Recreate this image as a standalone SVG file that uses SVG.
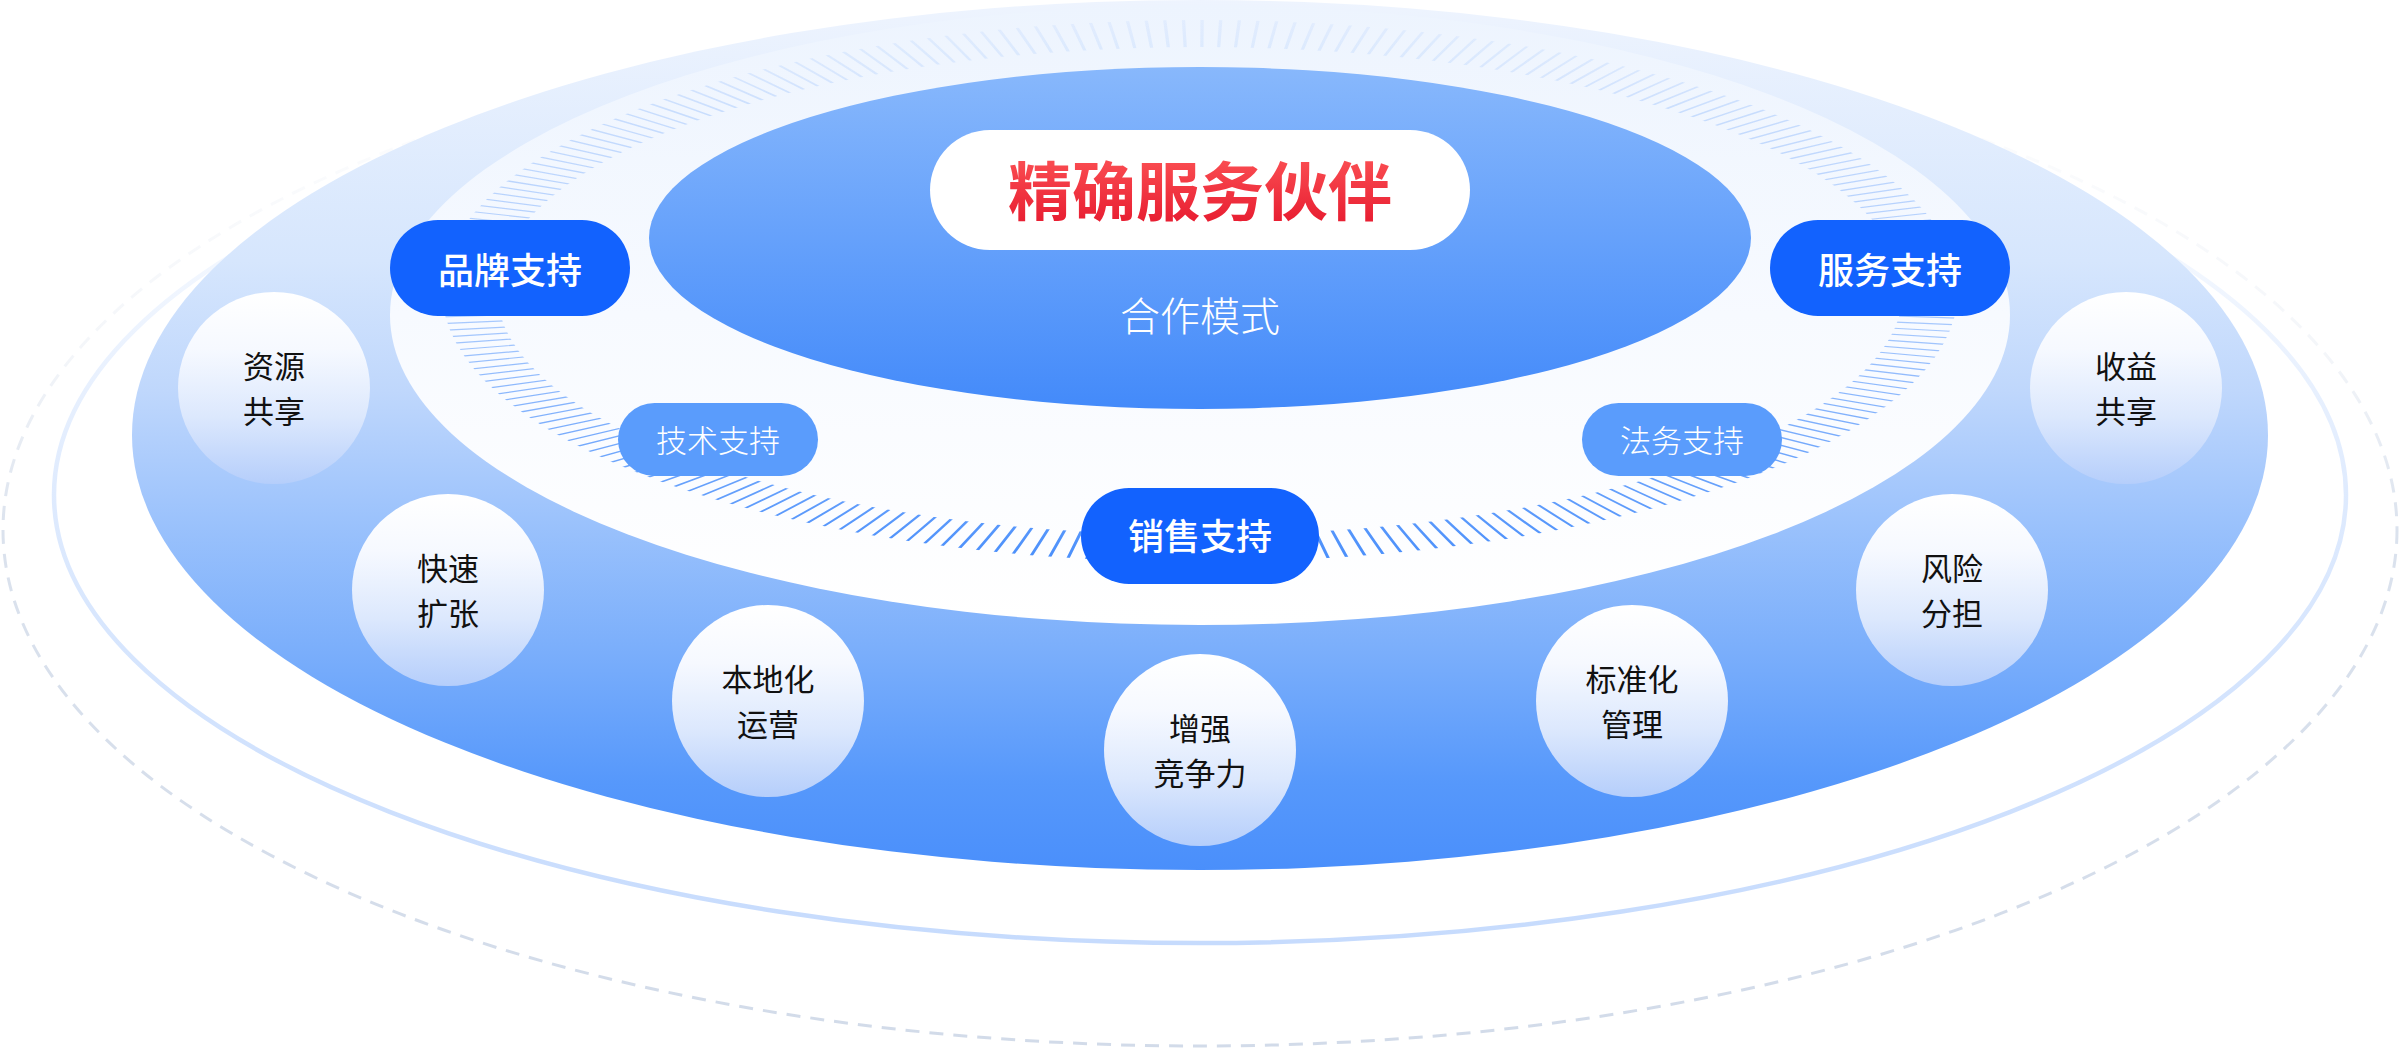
<svg xmlns="http://www.w3.org/2000/svg" width="2400" height="1051" viewBox="0 0 2400 1051">
  <defs>
    <style>
      .cjk { font-family: "Noto Sans CJK SC", "Noto Sans", sans-serif; text-anchor: middle; }
      .pillStrong { fill: #1262fe; }
      .pillSoft { fill: #5a9cfc; }
      .pillText { fill: #ffffff; font-size: 36px; font-weight: 500; }
      .softText { fill: #ffffff; font-size: 31px; font-weight: 300; }
      .circ { fill: url(#gCircle); }
      .circText { fill: #111111; font-size: 31px; font-weight: 400; }
    </style>
    <linearGradient id="gDash" gradientUnits="userSpaceOnUse" x1="0" y1="14" x2="0" y2="1046">
      <stop offset="0" stop-color="#d2dbe9" stop-opacity="0"/>
      <stop offset="0.33" stop-color="#d2dbe9" stop-opacity="0.25"/>
      <stop offset="0.5" stop-color="#d2dbe9" stop-opacity="0.8"/>
      <stop offset="1" stop-color="#d2dbe9" stop-opacity="1"/>
    </linearGradient>
    <linearGradient id="gRingB" gradientUnits="userSpaceOnUse" x1="0" y1="47" x2="0" y2="943">
      <stop offset="0" stop-color="#c9ddfd" stop-opacity="0"/>
      <stop offset="0.25" stop-color="#c9ddfd" stop-opacity="0.25"/>
      <stop offset="0.5" stop-color="#c9ddfd" stop-opacity="0.6"/>
      <stop offset="1" stop-color="#c6dbfd" stop-opacity="1"/>
    </linearGradient>
    <linearGradient id="gBig" x1="0" y1="0" x2="0" y2="1">
      <stop offset="0" stop-color="#eef4fe"/>
      <stop offset="0.3" stop-color="#d6e6fd"/>
      <stop offset="0.45" stop-color="#bfd7fc"/>
      <stop offset="0.6" stop-color="#9bc2fc"/>
      <stop offset="0.75" stop-color="#7aaefb"/>
      <stop offset="0.9" stop-color="#5698fb"/>
      <stop offset="1" stop-color="#4a8ffb"/>
    </linearGradient>
    <linearGradient id="gInner" x1="0" y1="0" x2="0" y2="1">
      <stop offset="0" stop-color="#edf4fe"/>
      <stop offset="0.5" stop-color="#f7faff"/>
      <stop offset="1" stop-color="#ffffff"/>
    </linearGradient>
    <linearGradient id="gCore" x1="0" y1="0" x2="0" y2="1">
      <stop offset="0" stop-color="#88b8fc"/>
      <stop offset="1" stop-color="#438afa"/>
    </linearGradient>
    <linearGradient id="gTick" gradientUnits="userSpaceOnUse" x1="0" y1="-104" x2="0" y2="104">
      <stop offset="0" stop-color="#4a8ffb" stop-opacity="0.07"/>
      <stop offset="0.1" stop-color="#4a8ffb" stop-opacity="0.14"/>
      <stop offset="0.17" stop-color="#4a8ffb" stop-opacity="0.24"/>
      <stop offset="0.33" stop-color="#4a8ffb" stop-opacity="0.35"/>
      <stop offset="0.57" stop-color="#4a8ffb" stop-opacity="0.47"/>
      <stop offset="0.8" stop-color="#4a8ffb" stop-opacity="0.78"/>
      <stop offset="1" stop-color="#4a8ffb" stop-opacity="1"/>
    </linearGradient>
    <linearGradient id="gCircle" x1="0" y1="0" x2="0" y2="1">
      <stop offset="0" stop-color="#ffffff"/>
      <stop offset="0.3" stop-color="#f6f9ff"/>
      <stop offset="0.65" stop-color="#dce8fd"/>
      <stop offset="1" stop-color="#b5cefb"/>
    </linearGradient>
    <linearGradient id="gTitle" x1="0" y1="0" x2="0" y2="1">
      <stop offset="0" stop-color="#ff5a5a"/>
      <stop offset="1" stop-color="#e5162c"/>
    </linearGradient>
    <mask id="ringMask" maskUnits="userSpaceOnUse" x="0" y="0" width="2400" height="1051">
      <ellipse cx="1200" cy="291" rx="758" ry="271" fill="#ffffff"/>
      <ellipse cx="1200" cy="291" rx="703" ry="244" fill="#000000"/>
    </mask>
  </defs>

  <g id="background">
    <ellipse id="dashed-orbit" cx="1200" cy="530" rx="1197" ry="516" fill="none" stroke="url(#gDash)" stroke-width="3" stroke-dasharray="14 10"/>
    <ellipse id="outer-orbit" cx="1200" cy="495" rx="1146" ry="448" fill="none" stroke="url(#gRingB)" stroke-width="4.5"/>
    <ellipse id="big-disc" cx="1200" cy="435" rx="1068" ry="435" fill="url(#gBig)"/>
    <ellipse id="inner-disc" cx="1200" cy="315" rx="810" ry="310" fill="url(#gInner)"/>
    <g id="ticks" mask="url(#ringMask)">
      <circle cx="0" cy="0" r="100" transform="translate(1200 291) scale(7.3 2.6)" fill="none" stroke="url(#gTick)" stroke-width="22" stroke-dasharray="0.45 2.0044"/>
    </g>
  </g>

  <g id="connectors"/>

  <g id="core">
    <ellipse cx="1200" cy="238" rx="551" ry="171" fill="url(#gCore)"/>
    <text class="cjk" x="1200" y="331" fill="#ffffff" font-size="40" font-weight="300">合作模式</text>
  </g>

  <g id="title">
    <rect x="930" y="130" width="540" height="120" rx="60" fill="#ffffff"/>
    <text class="cjk" x="1200" y="215" fill="url(#gTitle)" font-size="64" font-weight="700">精确服务伙伴</text>
  </g>

  <g id="brand-support">
    <rect class="pillStrong" x="390" y="220" width="240" height="96" rx="48"/>
    <text class="cjk pillText" x="510" y="284">品牌支持</text>
  </g>
  <g id="service-support">
    <rect class="pillStrong" x="1770" y="220" width="240" height="96" rx="48"/>
    <text class="cjk pillText" x="1890" y="284">服务支持</text>
  </g>
  <g id="tech-support">
    <rect class="pillSoft" x="618" y="403" width="200" height="73" rx="36.5"/>
    <text class="cjk softText" x="718" y="452">技术支持</text>
  </g>
  <g id="legal-support">
    <rect class="pillSoft" x="1582" y="403" width="200" height="73" rx="36.5"/>
    <text class="cjk softText" x="1682" y="452">法务支持</text>
  </g>
  <g id="sales-support">
    <rect class="pillStrong" x="1081" y="488" width="238" height="96" rx="48"/>
    <text class="cjk pillText" x="1200" y="550">销售支持</text>
  </g>

  <g id="resource-sharing">
    <circle class="circ" cx="274" cy="388" r="96"/>
    <text class="cjk circText" x="274" y="378">资源</text>
    <text class="cjk circText" x="274" y="423">共享</text>
  </g>
  <g id="rapid-expansion">
    <circle class="circ" cx="448" cy="590" r="96"/>
    <text class="cjk circText" x="448" y="580">快速</text>
    <text class="cjk circText" x="448" y="625">扩张</text>
  </g>
  <g id="local-operation">
    <circle class="circ" cx="768" cy="701" r="96"/>
    <text class="cjk circText" x="768" y="691">本地化</text>
    <text class="cjk circText" x="768" y="736">运营</text>
  </g>
  <g id="competitiveness">
    <circle class="circ" cx="1200" cy="750" r="96"/>
    <text class="cjk circText" x="1200" y="740">增强</text>
    <text class="cjk circText" x="1200" y="785">竞争力</text>
  </g>
  <g id="standard-management">
    <circle class="circ" cx="1632" cy="701" r="96"/>
    <text class="cjk circText" x="1632" y="691">标准化</text>
    <text class="cjk circText" x="1632" y="736">管理</text>
  </g>
  <g id="risk-sharing">
    <circle class="circ" cx="1952" cy="590" r="96"/>
    <text class="cjk circText" x="1952" y="580">风险</text>
    <text class="cjk circText" x="1952" y="625">分担</text>
  </g>
  <g id="revenue-sharing">
    <circle class="circ" cx="2126" cy="388" r="96"/>
    <text class="cjk circText" x="2126" y="378">收益</text>
    <text class="cjk circText" x="2126" y="423">共享</text>
  </g>
</svg>
